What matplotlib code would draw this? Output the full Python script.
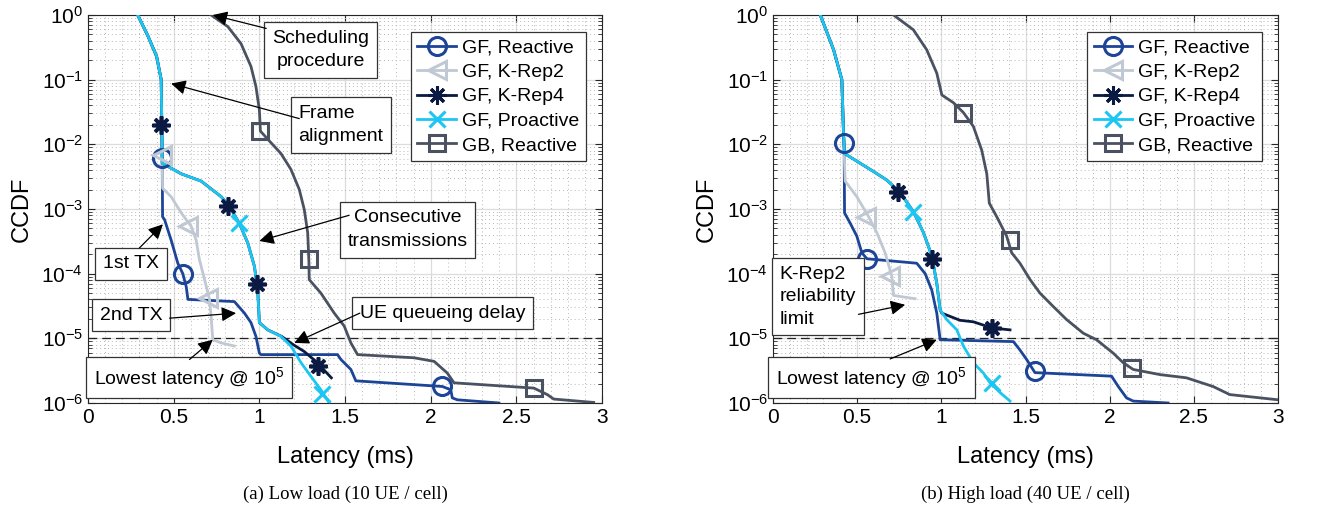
import matplotlib
matplotlib.use("Agg")
import matplotlib.pyplot as plt
from matplotlib.ticker import LogLocator, MultipleLocator, NullFormatter
from matplotlib.lines import Line2D

plt.rcParams['font.family'] = ['Liberation Sans', 'DejaVu Sans']
plt.rcParams['mathtext.default'] = 'regular'

# ---- colours / names
names = ['GF, Reactive', 'GF, K-Rep2', 'GF, K-Rep4', 'GF, Proactive', 'GB, Reactive']
colors = ['#1c4597', '#c0c8d3', '#0b1a42', '#1cc6f2', '#4a5261']

# ---------------- (a) low load ----------------
a_react_x = [0.29, 0.35, 0.40, 0.427, 0.431, 0.433, 0.435, 0.447, 0.485, 0.524, 0.553, 0.573, 0.583, 0.854,
             0.913, 0.951, 0.98, 1.0, 1.01, 1.456, 1.476, 1.534, 1.563, 2.068, 2.117, 2.126, 2.155, 2.398]
a_react_y = [1, 0.47, 0.23, 0.1, 0.015, 0.0051, 0.00076, 0.00068, 0.00033, 0.000145, 0.0001, 6.3e-5, 4e-5, 3.7e-5,
             2.45e-5, 1.75e-5, 1.07e-5, 5.9e-6, 5.6e-6, 5.6e-6, 4.7e-6, 3.3e-6, 2.2e-6, 1.8e-6, 1.6e-6, 1.2e-6, 1.12e-6, 1e-6]
a_react_mx = [0.431, 0.553, 2.068]
a_react_my = [0.0062, 0.0001, 1.8e-6]

a_k2_x = [0.29, 0.35, 0.40, 0.427, 0.431, 0.433, 0.435, 0.485, 0.544, 0.602, 0.631, 0.65, 0.68, 0.709, 0.718, 0.728, 0.777, 0.854]
a_k2_y = [1, 0.47, 0.23, 0.1, 0.015, 0.0051, 0.0021, 0.00155, 0.00087, 0.00054, 0.00033, 0.000165, 8.1e-5, 4e-5,
          2.2e-5, 9.5e-6, 8.5e-6, 7.6e-6]
a_k2_mx = [0.43, 0.586, 0.699]
a_k2_my = [0.0069, 0.00054, 4.2e-5]

a_k4_x = [0.29, 0.35, 0.40, 0.427, 0.431, 0.433, 0.544, 0.66, 0.777, 0.825, 0.883, 0.932, 0.971, 0.99, 1.0,
          1.049, 1.13, 1.2, 1.26, 1.33, 1.42]
a_k4_y = [1, 0.47, 0.23, 0.1, 0.015, 0.0051, 0.0035, 0.0027, 0.00155, 0.0011, 0.0006, 0.0003, 0.00013, 5.6e-5, 1.75e-5,
          1.35e-5, 1.07e-5, 7.9e-6, 6.3e-6, 4.4e-6, 2.45e-6]
a_k4_mx = [0.427, 0.816, 0.984, 1.34]
a_k4_my = [0.02, 0.0011, 6.8e-5, 3.7e-6]

a_pro_x = [0.29, 0.35, 0.40, 0.427, 0.431, 0.433, 0.544, 0.66, 0.777, 0.825, 0.883, 0.932, 0.971, 0.99, 1.0,
           1.049, 1.126, 1.184, 1.243, 1.30, 1.359, 1.408]
a_pro_y = [1, 0.47, 0.23, 0.1, 0.015, 0.0051, 0.0035, 0.0027, 0.00155, 0.0011, 0.0006, 0.0003, 0.00013, 5.6e-5, 1.75e-5,
           1.35e-5, 1.07e-5, 7.6e-6, 4.2e-6, 2.6e-6, 1.6e-6, 1e-6]
a_pro_mx = [0.883, 1.365]
a_pro_my = [0.0006, 1.4e-6]

a_gb_x = [0.718, 0.816, 0.893, 0.951, 0.98, 1.0, 1.006, 1.049, 1.126, 1.184, 1.233, 1.262, 1.282, 1.289, 1.291,
          1.359, 1.437, 1.495, 1.534, 1.573, 1.903, 2.02, 2.097, 2.136, 2.602, 2.68, 2.718, 2.951]
a_gb_y = [1, 0.66, 0.36, 0.16, 0.078, 0.034, 0.016, 0.012, 0.0072, 0.0041, 0.002, 0.00098, 0.00043, 0.000155, 8.1e-5,
          5e-5, 2.45e-5, 1.55e-5, 8.5e-6, 5.6e-6, 5e-6, 4.4e-6, 2.9e-6, 2.05e-6, 1.7e-6, 1.35e-6, 1.15e-6, 1.02e-6]
a_gb_mx = [1.006, 1.291, 2.602]
a_gb_my = [0.016, 0.00017, 1.7e-6]

# ---------------- (b) high load ----------------
b_react_x = [0.281, 0.36, 0.409, 0.419, 0.423, 0.425, 0.459, 0.498, 0.528, 0.558, 0.854, 0.904, 0.943, 0.973, 0.993,
             1.428, 1.467, 1.507, 1.556, 2.011, 2.051, 2.10, 2.14, 2.347]
b_react_y = [1, 0.29, 0.1, 0.015, 0.0072, 0.00087, 0.0006, 0.00038, 0.00021, 0.00017, 0.000145, 0.0001, 5.6e-5, 2.45e-5,
             9.5e-6, 8.9e-6, 6.6e-6, 4.7e-6, 2.95e-6, 2.6e-6, 1.8e-6, 1.2e-6, 1.07e-6, 1e-6]
b_react_mx = [0.419, 0.558, 1.556]
b_react_my = [0.0105, 0.00017, 3.1e-6]

b_k2_x = [0.281, 0.36, 0.409, 0.419, 0.423, 0.429, 0.498, 0.568, 0.617, 0.666, 0.706, 0.716, 0.844]
b_k2_y = [1, 0.29, 0.1, 0.015, 0.0072, 0.0027, 0.00155, 0.00076, 0.00043, 0.00021, 9.1e-5, 4.6e-5, 4.1e-5]
b_k2_mx = [0.554, 0.696]
b_k2_my = [0.00074, 9.1e-5]

b_k4_x = [0.281, 0.36, 0.409, 0.419, 0.425, 0.518, 0.597, 0.676, 0.755, 0.834, 0.894, 0.943, 0.973, 0.993,
          1.003, 1.111, 1.19, 1.30, 1.408]
b_k4_y = [1, 0.29, 0.1, 0.015, 0.0072, 0.0051, 0.0038, 0.0028, 0.0018, 0.00091, 0.00043, 0.00019, 7.1e-5, 2.75e-5,
          2.45e-5, 1.9e-5, 1.8e-5, 1.45e-5, 1.35e-5]
b_k4_mx = [0.745, 0.943, 1.299]
b_k4_my = [0.0018, 0.00017, 1.45e-5]

b_pro_x = [0.281, 0.36, 0.409, 0.419, 0.425, 0.518, 0.597, 0.676, 0.755, 0.834, 0.894, 0.943, 0.973, 0.993,
           1.032, 1.092, 1.131, 1.19, 1.25, 1.289, 1.349, 1.408]
b_pro_y = [1, 0.29, 0.1, 0.015, 0.0072, 0.0051, 0.0038, 0.0028, 0.0018, 0.00091, 0.00043, 0.00019, 7.1e-5, 2.75e-5,
           1.95e-5, 1.35e-5, 7.6e-6, 4.2e-6, 2.9e-6, 2.05e-6, 1.45e-6, 1.07e-6]
b_pro_mx = [0.834, 1.299]
b_pro_my = [0.00091, 2.05e-6]

b_gb_x = [0.716, 0.834, 0.913, 0.973, 1.003, 1.072, 1.131, 1.19, 1.24, 1.27, 1.285, 1.329, 1.388, 1.418, 1.467,
          1.527, 1.586, 1.665, 1.744, 1.843, 1.922, 2.021, 2.08, 2.14, 2.298, 2.456, 2.614, 2.713, 3.0]
b_gb_y = [1, 0.59, 0.29, 0.126, 0.058, 0.044, 0.031, 0.019, 0.0081, 0.0035, 0.00123, 0.00076, 0.00038, 0.00021,
          0.000145, 8.1e-5, 5e-5, 3.1e-5, 1.95e-5, 1.2e-5, 9.5e-6, 5.9e-6, 4.2e-6, 3.3e-6, 2.75e-6, 2.45e-6, 1.8e-6,
          1.35e-6, 1.12e-6]
b_gb_mx = [1.131, 1.408, 2.13]
b_gb_my = [0.031, 0.00033, 3.5e-6]

markers = ['o', '<', (8, 2, 0), 'x', 's']
msizes = [13, 13, 13, 12, 11]

panel_a = [(a_react_x, a_react_y, a_react_mx, a_react_my),
           (a_k2_x, a_k2_y, a_k2_mx, a_k2_my),
           (a_k4_x, a_k4_y, a_k4_mx, a_k4_my),
           (a_pro_x, a_pro_y, a_pro_mx, a_pro_my),
           (a_gb_x, a_gb_y, a_gb_mx, a_gb_my)]
panel_b = [(b_react_x, b_react_y, b_react_mx, b_react_my),
           (b_k2_x, b_k2_y, b_k2_mx, b_k2_my),
           (b_k4_x, b_k4_y, b_k4_mx, b_k4_my),
           (b_pro_x, b_pro_y, b_pro_mx, b_pro_my),
           (b_gb_x, b_gb_y, b_gb_mx, b_gb_my)]

fig = plt.figure(figsize=(13.2, 5.05), dpi=100)
axa = fig.add_axes([0.0667, 0.2020, 0.3894, 0.7683])
axb = fig.add_axes([0.5856, 0.2020, 0.3826, 0.7683])

box = dict(boxstyle='square,pad=0.4', fc='white', ec='#333333', lw=0.9)
arr = dict(arrowstyle='-|>', color='k', lw=0.9, mutation_scale=22, shrinkA=0, shrinkB=0)


def draw(ax, data):
    for i, (x, y, mx, my) in enumerate(data):
        ax.plot(x, y, color=colors[i], lw=2.0, zorder=3)
        face = colors[i] if i == 2 else 'none'
        ax.plot(mx, my, ls='none', marker=markers[i], ms=msizes[i], mec=colors[i], mfc=face,
                mew=2.6 if i == 2 else 2.2, zorder=4)
    ax.axhline(1e-5, color='#222222', lw=0.9, ls=(0, (7, 4)), zorder=2)
    ax.set_yscale('log')
    ax.set_xlim(0, 3)
    ax.set_ylim(1e-6, 1)
    ax.xaxis.set_major_locator(MultipleLocator(0.5))
    ax.xaxis.set_minor_locator(MultipleLocator(0.1))
    ax.xaxis.set_major_formatter(plt.FuncFormatter(lambda v, p: '%g' % v))
    ax.yaxis.set_major_locator(LogLocator(base=10, numticks=10))
    ax.yaxis.set_minor_locator(LogLocator(base=10, subs=range(2, 10), numticks=20))
    ax.yaxis.set_minor_formatter(NullFormatter())
    ax.grid(which='major', color='#dcdcdc', lw=0.9, ls='-', zorder=0)
    ax.grid(which='minor', color='#b8b8b8', lw=0.7, ls=(0, (1, 3)), zorder=0)
    ax.set_axisbelow(True)
    ax.tick_params(which='both', direction='in', top=True, right=True, labelsize=15, color='#262626')
    ax.tick_params(which='major', length=5)
    ax.tick_params(which='minor', length=3)
    ax.tick_params(axis='x', which='minor', length=0)
    for s in ax.spines.values():
        s.set_color('#262626')
        s.set_linewidth(0.8)
    ax.set_xlabel('Latency (ms)', fontsize=17, labelpad=14)
    handles = [Line2D([], [], color=colors[i], lw=2.0, marker=markers[i], ms=msizes[i], mec=colors[i],
                      mfc=(colors[i] if i == 2 else 'none'), mew=2.2) for i in range(5)]
    leg = ax.legend(handles, names, loc='upper right', bbox_to_anchor=(0.969, 0.956), borderaxespad=0,
                    fontsize=14, frameon=True, fancybox=False, framealpha=1, edgecolor='#333333',
                    handlelength=2.0, labelspacing=0.35, handletextpad=0.3, borderpad=0.35)
    leg.get_frame().set_linewidth(0.9)
    leg.set_zorder(10)


draw(axa, panel_a)
draw(axb, panel_b)
axa.set_ylabel('CCDF', fontsize=17, labelpad=6)
axb.set_ylabel('CCDF', fontsize=17, labelpad=6)

# annotations panel (a)
axa.text(1.357, 10 ** -0.54, 'Scheduling\nprocedure', ha='center', va='center', fontsize=14, bbox=box, zorder=6,
         linespacing=1.5)
axa.annotate('', xy=(0.728, 1.0), xytext=(1.04, 0.62), arrowprops=arr, zorder=6)
axa.text(1.229, 10 ** -1.70, 'Frame\nalignment', ha='left', va='center', fontsize=14, bbox=box, zorder=6,
         linespacing=1.5)
axa.annotate('', xy=(0.485, 0.087), xytext=(1.233, 0.025), arrowprops=arr, zorder=6)
axa.text(1.864, 10 ** -3.32, 'Consecutive\ntransmissions', ha='center', va='center', fontsize=14, bbox=box,
         zorder=6, linespacing=1.5)
axa.annotate('', xy=(1.0, 0.00032), xytext=(1.524, 0.0008), arrowprops=arr, zorder=6)
axa.text(0.25, 10 ** -3.85, '1st TX', ha='center', va='center', fontsize=14, bbox=box, zorder=6)
axa.annotate('', xy=(0.437, 0.00058), xytext=(0.30, 0.00025), arrowprops=arr, zorder=6)
axa.text(0.25, 10 ** -4.64, '2nd TX', ha='center', va='center', fontsize=14, bbox=box, zorder=6)
axa.annotate('', xy=(0.864, 2.45e-5), xytext=(0.476, 2.05e-5), arrowprops=arr, zorder=6)
axa.text(2.07, 10 ** -4.61, 'UE queueing delay', ha='center', va='center', fontsize=14, bbox=box, zorder=6)
axa.annotate('', xy=(1.204, 8.5e-6), xytext=(1.586, 2.45e-5), arrowprops=arr, zorder=6)
axa.text(0.588, 10 ** -5.61, 'Lowest latency @ 10$^5$', ha='center', va='center', fontsize=14, bbox=box, zorder=6)
axa.annotate('', xy=(0.728, 9.5e-6), xytext=(0.592, 4.7e-6), arrowprops=arr, zorder=6)

# annotations panel (b)
axb.text(0.04, 10 ** -4.36, 'K-Rep2\nreliability\nlimit', ha='left', va='center', fontsize=14, bbox=box, zorder=6,
         linespacing=1.4)
axb.annotate('', xy=(0.785, 3.3e-5), xytext=(0.508, 2.35e-5), arrowprops=arr, zorder=6)
axb.text(0.585, 10 ** -5.61, 'Lowest latency @ 10$^5$', ha='center', va='center', fontsize=14, bbox=box, zorder=6)
axb.annotate('', xy=(0.973, 9.5e-6), xytext=(0.696, 4.8e-6), arrowprops=arr, zorder=6)

# captions
fig.text(0.2614, 0.022, '(a) Low load (10 UE / cell)', ha='center', va='center', fontsize=13.5,
         family='Liberation Serif')
fig.text(0.7769, 0.022, '(b) High load (40 UE / cell)', ha='center', va='center', fontsize=13.5,
         family='Liberation Serif')

fig.savefig('out.png', dpi=100)
